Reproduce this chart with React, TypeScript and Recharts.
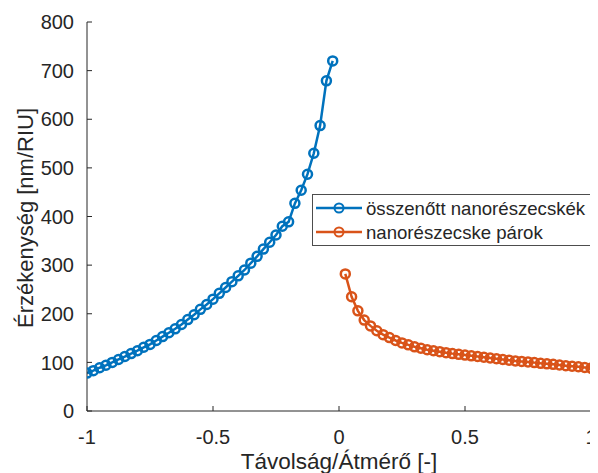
import { LineChart, Line, XAxis, YAxis, Legend } from "recharts"

// Érzékenység a távolság/átmérő arány függvényében
const fusedRatio = [
  -1, -0.975, -0.95, -0.925, -0.9, -0.875, -0.85, -0.825, -0.8, -0.775,
  -0.75, -0.725, -0.7, -0.675, -0.65, -0.625, -0.6, -0.575, -0.55, -0.525,
  -0.5, -0.475, -0.45, -0.425, -0.4, -0.375, -0.35, -0.325, -0.3, -0.275,
  -0.25, -0.225, -0.2, -0.175, -0.15, -0.125, -0.1, -0.075, -0.05, -0.025,
]
const fusedSens = [
  78, 83, 89, 94, 100, 106, 112, 118, 124, 131,
  137, 145, 153, 161, 169, 178, 188, 198, 209, 219,
  230, 242, 254, 266, 278, 290, 304, 318, 333, 347,
  362, 380, 389, 427, 454, 487, 530, 587, 679, 720,
]

const pairRatio = [
  0.025, 0.05, 0.075, 0.1, 0.125, 0.15, 0.175, 0.2, 0.225, 0.25,
  0.275, 0.3, 0.325, 0.35, 0.375, 0.4, 0.425, 0.45, 0.475, 0.5,
  0.525, 0.55, 0.575, 0.6, 0.625, 0.65, 0.675, 0.7, 0.725, 0.75,
  0.775, 0.8, 0.825, 0.85, 0.875, 0.9, 0.925, 0.95, 0.975, 1,
]
const pairSens = [
  282, 235, 206, 187, 175, 165, 157, 151, 145, 140,
  136, 132, 129, 126, 124, 122, 120, 118, 116.5, 115,
  113.5, 112, 110.5, 109, 107.5, 106, 104.5, 103, 102, 101,
  99.5, 98, 97, 96, 94.5, 93, 92, 91, 89.5, 88,
]

const seriesNames = ["összenőtt nanorészecskék", "nanorészecske párok"]
const xTicks = [-1, -0.5, 0, 0.5, 1]
const yTicks = [0, 100, 200, 300, 400, 500, 600, 700, 800]

const fusedData = fusedRatio.map((x, i) => ({ x, y: fusedSens[i] }))
const pairData = pairRatio.map((x, i) => ({ x, y: pairSens[i] }))

const axisColor = "#262626"
const font = "'Liberation Sans', Arial, Helvetica, sans-serif"

// befelé mutató osztásjelek, mint a MATLAB-ban
function YTick(props: any) {
  const { x, y, payload } = props
  return (
    <g>
      <line x1={x} x2={x + 5} y1={y} y2={y} stroke={axisColor} />
      <text x={x - 13} y={y} dy="0.36em" textAnchor="end" fontSize={20} fontFamily={font} fill={axisColor}>
        {String(payload.value)}
      </text>
    </g>
  )
}

function XTick(props: any) {
  const { x, y, payload } = props
  return (
    <g>
      <line x1={x} x2={x} y1={y} y2={y - 5} stroke={axisColor} />
      <text x={x} y={y + 26} dy="0.36em" textAnchor="middle" fontSize={20} fontFamily={font} fill={axisColor}>
        {String(payload.value)}
      </text>
    </g>
  )
}

function LegendBox(props: any) {
  const items = seriesNames
    .map((n) => (props.payload || []).find((p: any) => p.value === n))
    .filter(Boolean)
  return (
    <svg width={300} height={54} style={{ display: "block" }}>
      <rect x={0.5} y={0.5} width={298} height={51} fill="#fff" stroke="#4d4d4d" />
      {items.map((item: any, i: number) => {
        const cy = 14 + i * 24
        return (
          <g key={i}>
            <line x1={4} x2={50} y1={cy} y2={cy} stroke={item.color} strokeWidth={2.5} />
            <circle cx={27} cy={cy} r={4.5} fill="none" stroke={item.color} strokeWidth={2} />
            <text x={54} y={cy} dy="0.36em" fontSize={18.6} fontFamily={font} fill={axisColor}>
              {item.value}
            </text>
          </g>
        )
      })}
    </svg>
  )
}

function YLabel() {
  const cx = 25
  const cy = 210
  return (
    <text
      x={cx}
      y={cy}
      transform={`rotate(-90, ${cx}, ${cy})`}
      textAnchor="middle"
      fontSize={22}
      fontFamily={font}
      fill={axisColor}
    >
      Érzékenység [nm/RIU]
    </text>
  )
}

export default function App() {
  return (
    <LineChart width={590} height={465} margin={{ top: 14, right: 7, left: 0, bottom: 0 }} style={{ fontFamily: font }}>
      <XAxis
        type="number"
        dataKey="x"
        domain={[-1, 1]}
        ticks={xTicks}
        tick={<XTick />}
        tickLine={false}
        tickSize={0}
        tickMargin={0}
        height={62}
        stroke={axisColor}
        allowDataOverflow
        label={{ value: "Távolság/Átmérő [-]", position: "insideBottom", offset: 4, fontSize: 22.5, fill: axisColor, fontFamily: font }}
      />
      <YAxis
        type="number"
        dataKey="y"
        domain={[0, 800]}
        ticks={yTicks}
        tick={<YTick />}
        tickLine={false}
        tickSize={0}
        tickMargin={0}
        width={79}
        stroke={axisColor}
        allowDataOverflow
        label={<YLabel />}
      />
      <Legend
        layout="horizontal"
        verticalAlign="middle"
        align="center"
        content={<LegendBox />}
        wrapperStyle={{ position: "absolute", left: 304, top: 186, width: 300, height: 54 }}
      />
      <Line
        data={fusedData}
        dataKey="y"
        name={seriesNames[0]}
        stroke="#0072BD"
        strokeWidth={2.5}
        dot={{ r: 4.5, fill: "none", stroke: "#0072BD", strokeWidth: 2.5 }}
        activeDot={false}
        isAnimationActive={false}
      />
      <Line
        data={pairData}
        dataKey="y"
        name={seriesNames[1]}
        stroke="#D95319"
        strokeWidth={2.5}
        dot={{ r: 4.5, fill: "none", stroke: "#D95319", strokeWidth: 2.5 }}
        activeDot={false}
        isAnimationActive={false}
      />
    </LineChart>
  )
}
